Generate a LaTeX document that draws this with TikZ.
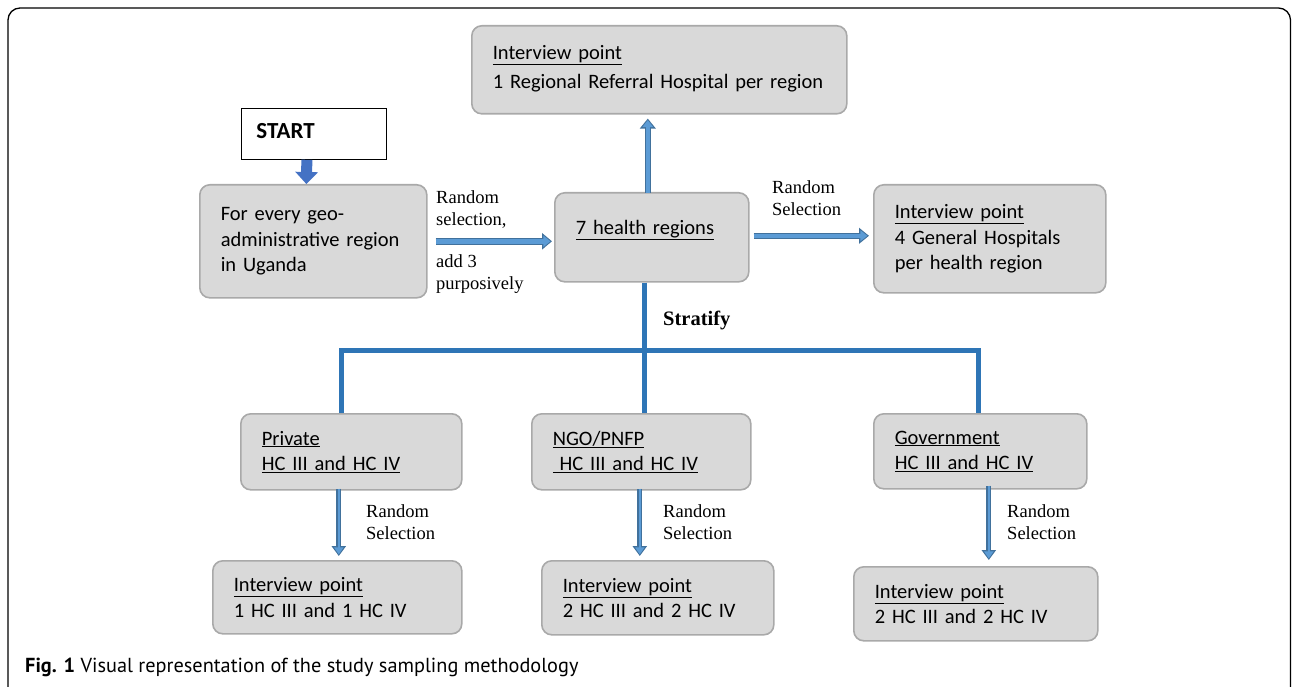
\documentclass[tikz,border=0pt]{standalone}
\usepackage{fontspec}
\setmainfont{Carlito}
\newfontfamily\notefont{Liberation Serif}
\newfontfamily\capfont{PT Sans}
\usetikzlibrary{arrows.meta}
\usetikzlibrary{calc}
\definecolor{boxfill}{HTML}{D9D9D9}
\definecolor{boxedge}{HTML}{A9A9A9}
\definecolor{trunkblue}{HTML}{2E75B6}
\definecolor{arrowfill}{HTML}{5B9BD5}
\definecolor{arrowedge}{HTML}{41719C}
\definecolor{startblue}{HTML}{4472C4}

\begin{document}
\begin{tikzpicture}[x=1pt, y=-1pt,
    box/.style={rectangle, rounded corners=10pt, draw=boxedge, line width=1.6pt, fill=boxfill, anchor=north west, align=left, inner xsep=21pt, inner ysep=0pt, font=\fontsize{20.5}{25.5}\selectfont},
    note/.style={align=left, inner sep=1pt, font=\notefont\fontsize{18.5}{21.5}\selectfont}]
    \tikzset{barrow/.style={line width=#1, draw=arrowedge, -{Triangle[length=10pt,width=#1+9pt]},
        postaction={draw=arrowfill, line width=#1-2.4pt, shorten >=1.6pt, -{Triangle[length=7pt,width=#1+4pt]}}},
    barrow/.default={6.5pt}}
    \tikzset{trunk/.style={draw=trunkblue, line width=5pt}}
    \useasboundingbox (0,0) rectangle (1292,687);
    \draw[line width=1.3pt, rounded corners=12pt] (8,8) rectangle (1290.5,710);

    % top row
    \node[rectangle, draw=black, line width=0.8pt, fill=white, anchor=north west, align=left, text width=115pt, inner xsep=15pt, minimum height=51pt, font=\bfseries\fontsize{23}{27}\selectfont] (start) at (241,108) {START\\[-22pt]\mbox{}};
    \node[box, text width=185pt, minimum height=113pt] (geo) at (199,184) {For every geo-\\administrative region\\in Uganda};
    \node[box, text width=152pt, minimum height=89pt] (health) at (554,192) {\underline{7 health regions}\\[-6pt]\mbox{}};
    \node[box, text width=333pt, minimum height=88pt] (refhosp) at (471,25) {\underline{Interview point}\\[3pt]1 Regional Referral Hospital per region\\[-20pt]\mbox{}};
    \node[box, text width=190pt, minimum height=108pt] (genhosp) at (873,184) {\underline{Interview point}\\4 General Hospitals\\per health region};

    % strata
    \node[box, text width=179pt, minimum height=76pt] (private) at (240,413) {\underline{Private}\\\underline{HC III and HC IV}};
    \node[box, text width=177pt, minimum height=76pt] (ngo) at (531,413) {\underline{NGO/PNFP}\\\underline{\ HC III and HC IV}};
    \node[box, text width=171pt, minimum height=75pt] (gov) at (873,413) {\underline{Government}\\\underline{HC III and HC IV}};

    % interview points
    \node[box, text width=207pt, minimum height=73pt] (privpt) at (212,560) {\underline{Interview point}\\1 HC III and 1 HC IV};
    \node[box, text width=190pt, minimum height=74pt] (ngopt) at (541,560) {\underline{Interview point}\\2 HC III and 2 HC IV};
    \node[box, text width=202pt, minimum height=74pt] (govpt) at (853,566) {\underline{Interview point}\\2 HC III and 2 HC IV};

    % labels
    \node[note, anchor=west] (randsel) at (435,209.5) {Random\\selection,};
    \node[note, anchor=west] (addthree) at (435,274) {add 3\\purposively};
    \node[note, anchor=west] (randgen) at (771,198) {Random\\Selection};
    \node[note, anchor=west, font=\notefont\bfseries\fontsize{20.5}{24}\selectfont] (stratify) at (662,320) {Stratify};
    \node[note, anchor=west] (randpriv) at (365,522) {Random\\Selection};
    \node[note, anchor=west] (randngo) at (662,522) {Random\\Selection};
    \node[note, anchor=west] (randgov) at (1006,522) {Random\\Selection};

    % connectors
    \draw[draw=startblue, line width=11pt, -{Triangle[length=12pt,width=22pt]}] ([xshift=-7pt]start.south) -- ([xshift=-7pt]geo.north);
    \draw[barrow=7pt] ([xshift=8pt]geo.east) -- ($(geo.east -| health.west)+(-2,0)$);
    \draw[barrow] ([xshift=-4pt,yshift=-1pt]health.north) -- ($(health.north |- refhosp.south)+(-4,4)$);
    \draw[barrow] ($(health.east)+(4,-1.5)$) -- ($(health.east -| genhosp.west)+(-4,-1.5)$);

    \coordinate (fork) at (644,350);
    \draw[trunk] (health.south -| fork) -- (ngo.north -| fork);
    \draw[trunk] ([xshift=-9.5pt]private.north) |- (fork) -| ([xshift=-1.5pt]gov.north);

    \draw[barrow=5pt] ([xshift=-12.5pt,yshift=2pt]private.south) -- ($(private.south |- privpt.north)+(-12.5,-4)$);
    \draw[barrow=5pt] ([xshift=-1.5pt,yshift=2pt]ngo.south) -- ($(ngo.south |- ngopt.north)+(-1.5,-4)$);
    \draw[barrow=5pt] ([xshift=8.5pt,yshift=4pt]gov.south) -- ($(gov.south |- govpt.north)+(8.5,-6)$);

    % caption
    \node[anchor=west, inner sep=0pt, font=\capfont\fontsize{20.3}{23}\selectfont] (caption) at (25,667) {\textbf{Fig. 1} Visual representation of the study sampling methodology};
\end{tikzpicture}
\end{document}
